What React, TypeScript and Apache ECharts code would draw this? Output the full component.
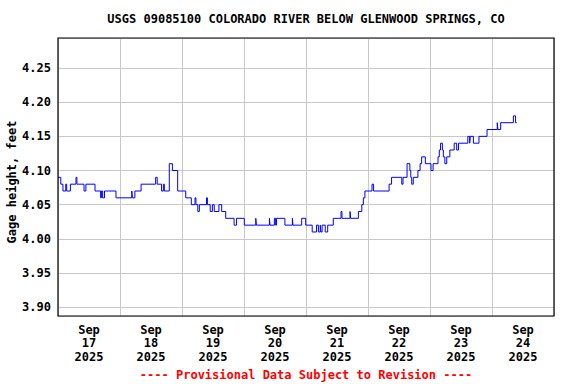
import React, { useEffect, useRef } from "react";
import * as echarts from "echarts";

const TITLE = "USGS 09085100 COLORADO RIVER BELOW GLENWOOD SPRINGS, CO";
const Y_NAME = "Gage height, feet";
const FOOTER = "---- Provisional Data Subject to Revision ----";
const MONTH = "Sep";
const YEAR = "2025";
const DAY_LABELS = ["17", "18", "19", "20", "21", "22", "23", "24"];

// change points: days since Sep 17 2025 00:00, gage height (ft) from that time on
const times = [
  0.0, 0.045, 0.08, 0.125, 0.14, 0.2, 0.29, 0.305, 0.42, 0.45,
  0.597, 0.688, 0.7, 0.72, 0.75, 0.935, 1.19, 1.2, 1.24, 1.34,
  1.575, 1.6, 1.67, 1.7, 1.715, 1.795, 1.845, 1.93, 2.06, 2.15,
  2.21, 2.225, 2.255, 2.28, 2.395, 2.41, 2.455, 2.49, 2.52, 2.595,
  2.64, 2.705, 2.84, 2.88, 3.005, 3.19, 3.2, 3.41, 3.42, 3.49,
  3.51, 3.525, 3.66, 3.78, 3.79, 3.93, 3.995, 4.1, 4.17, 4.2,
  4.23, 4.24, 4.26, 4.31, 4.35, 4.44, 4.565, 4.58, 4.71, 4.72,
  4.845, 4.9, 4.925, 4.95, 5.065, 5.09, 5.34, 5.38, 5.545, 5.565,
  5.63, 5.675, 5.69, 5.705, 5.73, 5.805, 5.84, 5.865, 5.925, 6.016,
  6.05, 6.13, 6.15, 6.17, 6.2, 6.215, 6.24, 6.27, 6.32, 6.39,
  6.43, 6.46, 6.61, 6.64, 6.65, 6.7, 6.79, 6.92, 7.085, 7.095,
  7.14, 7.345, 7.38, 7.4,
];
const heights = [
  4.09, 4.08, 4.07, 4.08, 4.07, 4.08, 4.09, 4.08, 4.07, 4.08,
  4.07, 4.06, 4.07, 4.06, 4.07, 4.06, 4.07, 4.06, 4.07, 4.08,
  4.09, 4.08, 4.07, 4.08, 4.07, 4.11, 4.1, 4.07, 4.06, 4.05,
  4.06, 4.05, 4.04, 4.05, 4.06, 4.05, 4.04, 4.05, 4.04, 4.05,
  4.04, 4.03, 4.02, 4.03, 4.02, 4.03, 4.02, 4.03, 4.02, 4.03,
  4.02, 4.03, 4.02, 4.03, 4.02, 4.03, 4.02, 4.01, 4.02, 4.01,
  4.02, 4.01, 4.02, 4.01, 4.02, 4.03, 4.04, 4.03, 4.04, 4.03,
  4.04, 4.05, 4.06, 4.07, 4.08, 4.07, 4.08, 4.09, 4.08, 4.09,
  4.11, 4.1, 4.09, 4.08, 4.09, 4.1, 4.11, 4.12, 4.11, 4.1,
  4.11, 4.12, 4.13, 4.14, 4.13, 4.12, 4.11, 4.12, 4.13, 4.14,
  4.13, 4.14, 4.15, 4.14, 4.15, 4.14, 4.15, 4.16, 4.17, 4.16,
  4.17, 4.18, 4.17, 4.17,
];

const Y_MIN = 3.887;
const Y_MAX = 4.294;
const FONT = '"DejaVu Sans Mono", monospace';
const GRID = { left: 58, top: 38, width: 496, height: 278 };

export default function App() {
  const ref = useRef<HTMLDivElement>(null);
  useEffect(() => {
    if (!ref.current) return;
    const chart = echarts.init(ref.current, undefined, { renderer: "svg" });
    const data = times.map((t, i) => [t, heights[i]]);
    chart.setOption({
      animation: false,
      backgroundColor: "#fff",
      grid: {
        left: GRID.left,
        top: GRID.top,
        width: GRID.width,
        height: GRID.height,
        show: false,
      },
      xAxis: [
        {
          type: "value",
          min: 0,
          max: 8,
          interval: 1,
          axisLine: { show: false },
          axisTick: { show: false },
          axisLabel: { show: false },
          splitLine: { show: true, lineStyle: { color: "#c8c8c8", width: 1 } },
        },
        {
          type: "value",
          min: 0,
          max: 8,
          interval: 0.5,
          position: "bottom",
          axisLine: { show: false },
          axisTick: { show: false },
          splitLine: { show: false },
          axisLabel: {
            margin: 7,
            fontFamily: FONT,
            fontWeight: "bold",
            fontSize: 12,
            color: "#000",
            lineHeight: 13.5,
            formatter: (v: number) => {
              const f = Math.floor(v);
              if (Math.abs(v - f - 0.5) < 1e-6 && f < DAY_LABELS.length) {
                return MONTH + "\n" + DAY_LABELS[f] + "\n" + YEAR;
              }
              return "";
            },
          },
        },
      ],
      yAxis: {
        type: "value",
        min: Y_MIN,
        max: Y_MAX,
        splitNumber: 8,
        axisLine: { show: false },
        axisTick: { show: false },
        splitLine: { show: true, lineStyle: { color: "#c8c8c8", width: 1 } },
        axisLabel: {
          margin: 7,
          fontFamily: FONT,
          fontWeight: "bold",
          fontSize: 12,
          color: "#000",
          formatter: (v: number) => {
            const r = Math.round(v / 0.05) * 0.05;
            return Math.abs(v - r) < 1e-6 ? v.toFixed(2) : "";
          },
        },
      },
      series: [
        {
          type: "line",
          xAxisIndex: 0,
          data,
          step: "end",
          showSymbol: false,
          symbol: "none",
          lineStyle: { color: "#0000ff", width: 1 },
          z: 5,
        },
      ],
      graphic: [
        {
          type: "rect",
          z: 100,
          silent: true,
          shape: { x: GRID.left, y: GRID.top, width: GRID.width, height: GRID.height },
          style: { fill: "none", stroke: "#000", lineWidth: 1.2 },
        },
        {
          type: "text",
          x: 306,
          y: 19,
          style: {
            text: TITLE,
            align: "center",
            verticalAlign: "middle",
            fontFamily: FONT,
            fontWeight: "bold",
            fontSize: 12,
            fill: "#000",
          },
        },
        {
          type: "text",
          x: 12,
          y: 182,
          rotation: Math.PI / 2,
          style: {
            text: Y_NAME,
            align: "center",
            verticalAlign: "middle",
            fontFamily: FONT,
            fontWeight: "bold",
            fontSize: 12,
            fill: "#000",
          },
        },
        {
          type: "text",
          x: 306,
          y: 375,
          style: {
            text: FOOTER,
            align: "center",
            verticalAlign: "middle",
            fontFamily: FONT,
            fontWeight: "bold",
            fontSize: 12,
            fill: "#ff0000",
          },
        },
      ],
    });
    return () => chart.dispose();
  }, []);
  return (
    <div
      ref={ref}
      style={{ position: "fixed", left: 0, top: 0, width: 576, height: 384, background: "#fff" }}
    />
  );
}
